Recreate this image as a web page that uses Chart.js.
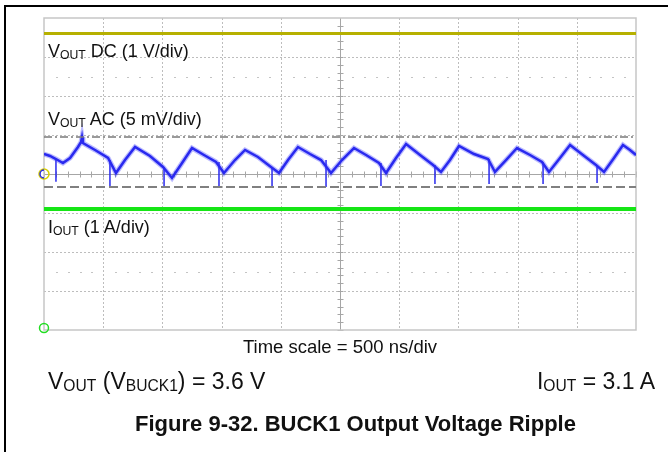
<!DOCTYPE html>
<html>
<head>
<meta charset="utf-8">
<script src="https://cdn.jsdelivr.net/npm/chart.js@4.4.1/dist/chart.umd.min.js"></script>
<style>
  body { margin: 0; background: #fff; }
  #wrap { position: relative; width: 668px; height: 452px; overflow: hidden; font-family: "Liberation Sans", Arial, sans-serif; color: #111; }
  #frame { position: absolute; left: 4px; top: 5px; width: 700px; height: 500px; border-left: 2px solid #000; border-top: 2px solid #000; }
  canvas { position: absolute; left: 0; top: 0; }
  .lbl { position: absolute; white-space: nowrap; line-height: 1; }
  .lbl sub { font-size: 0.68em; vertical-align: -2px; line-height: 0; }
  .big { font-size: 18px; }
  #time { left: 240px; width: 200px; top: 338px; text-align: center; font-size: 18.5px; }
  #vset { left: 48px; top: 370px; font-size: 23px; }
  #iset { right: 13px; top: 370px; font-size: 23px; }
  #title { left: 0; width: 711px; top: 413px; text-align: center; font-size: 22px; font-weight: bold; }
</style>
</head>
<body>
<div id="wrap">
  <div id="frame"></div>
  <canvas id="scope" width="668" height="452"></canvas>
  <div class="lbl big" style="left:48px; top:42px">V<sub>OUT</sub> DC (1 V/div)</div>
  <div class="lbl big" style="left:48px; top:110px">V<sub>OUT</sub> AC (5 mV/div)</div>
  <div class="lbl big" style="left:48px; top:218px">I<sub>OUT</sub> (1 A/div)</div>
  <div class="lbl" id="time">Time scale = 500 ns/div</div>
  <div class="lbl" id="vset">V<sub>OUT</sub> (V<sub>BUCK1</sub>) = 3.6 V</div>
  <div class="lbl" id="iset">I<sub>OUT</sub> = 3.1 A</div>
  <div class="lbl" id="title">Figure 9-32. BUCK1 Output Voltage Ripple</div>
</div>
<script>
// time axis: 10 div x 500 ns
const timeMin = 0, timeMax = 5000, nsPerDiv = 500;

// channel 2, VOUT AC ripple (mV)
const rippleNs = [0, 51, 101, 160, 220, 287, 313, 321, 329, 431,
  541, 608, 684, 769, 895, 1005, 1081, 1166, 1250, 1351,
  1453, 1520, 1613, 1698, 1807, 1917, 1985, 2061, 2145, 2247,
  2340, 2424, 2517, 2618, 2720, 2829, 2889, 2973, 3058, 3176,
  3286, 3353, 3429, 3505, 3632, 3750, 3809, 3902, 3995, 4105,
  4206, 4265, 4358, 4443, 4552, 4662, 4730, 4814, 4890, 4949, 5000];
const rippleMv = [2.56, 2.31, 1.92, 1.41, 2.05, 3.46, 4.10, 4.74, 3.97, 3.08,
  2.05, 0.13, 1.79, 3.46, 2.31, 0.90, -0.51, 1.41, 3.33, 2.44,
  1.54, 0.13, 1.79, 3.08, 2.18, 0.90, 0.13, 1.79, 3.46, 2.56,
  1.79, 0.13, 1.79, 3.33, 2.44, 1.41, 0.13, 2.05, 3.85, 2.44,
  1.15, 0.26, 1.79, 3.59, 2.56, 1.92, 0.26, 1.79, 3.33, 2.44,
  1.54, 0.26, 2.05, 3.72, 2.44, 1.15, 0.26, 2.05, 3.72, 3.08, 2.44];

// switching spikes on the ripple
const spikeNs = [101, 557, 1014, 1478, 1926, 2382, 2846, 3302, 3759, 4215, 4671];
const spikeTopMv = [1.92, 1.79, 0.90, 1.54, 0.90, 1.79, 1.41, 1.15, 1.92, 1.54, 1.15];
const spikeLowMv = [-1.0, -1.67, -1.67, -1.67, -1.67, -1.67, -1.54, -1.28, -1.28, -1.28, -1.15];

// cursors (mV)
const cursorMv = [4.74, -1.67];

// channel 1 VOUT DC (V) and channel 4 IOUT (A)
const vdcNs = [0, 5000];
const vdcV = [3.6, 3.6];
const ioutNs = [0, 5000];
const ioutA = [3.05, 3.05];

// volts/div and ground position (div from centre)
const ch1 = { perDiv: 1, ground: 0 };
const ch2 = { perDiv: 5, ground: 0 };
const ch4 = { perDiv: 1, ground: -3.95 };

const toDiv = (ch, v) => v / ch.perDiv + ch.ground;

const ripplePts = rippleNs.map((t, i) => ({ x: t, y: toDiv(ch2, rippleMv[i]) }));
const spikePts = [];
spikeNs.forEach((t, i) => {
  spikePts.push({ x: t, y: toDiv(ch2, spikeTopMv[i]) });
  spikePts.push({ x: t, y: toDiv(ch2, spikeLowMv[i]) });
  spikePts.push({ x: t, y: null });
});
const cursorLine = v => [{ x: timeMin, y: toDiv(ch2, v) }, { x: timeMax, y: toDiv(ch2, v) }];

const graticule = {
  id: 'graticule',
  beforeDatasetsDraw(chart) {
    const { ctx, chartArea: a, scales: { x, y } } = chart;
    const px = v => Math.round(x.getPixelForValue(v)) + 0.5;
    const py = v => Math.round(y.getPixelForValue(v)) + 0.5;
    const seg = (x1, y1, x2, y2) => { ctx.beginPath(); ctx.moveTo(x1, y1); ctx.lineTo(x2, y2); ctx.stroke(); };
    ctx.save();
    ctx.lineWidth = 1;
    ctx.strokeStyle = '#bdbdbd';
    ctx.setLineDash([2, 2]);
    for (let t = timeMin + nsPerDiv; t < timeMax; t += nsPerDiv) {
      if (t === 2500) continue;
      seg(px(t), a.top, px(t), a.bottom);
    }
    for (let d = -3; d <= 3; d++) {
      if (d === 0) continue;
      seg(a.left, py(d), a.right, py(d));
    }
    ctx.setLineDash([]);
    // dot rows
    ctx.fillStyle = '#c4c4c4';
    for (let t = timeMin; t < timeMax; t += nsPerDiv / 5) {
      if (t % nsPerDiv === 0) continue;
      ctx.fillRect(Math.round(x.getPixelForValue(t)), Math.round(y.getPixelForValue(2.5)), 2, 1);
      ctx.fillRect(Math.round(x.getPixelForValue(t)), Math.round(y.getPixelForValue(-2.5)), 2, 1);
    }
    // centre cross with minor ticks
    ctx.strokeStyle = '#a6a6a6';
    seg(px(2500), a.top, px(2500), a.bottom);
    seg(a.left, py(0), a.right, py(0));
    for (let t = timeMin; t <= timeMax; t += nsPerDiv / 5) seg(px(t), py(0) - 3, px(t), py(0) + 3);
    for (let d = -4; d <= 4; d += 0.2) seg(px(2500) - 3, py(d), px(2500) + 3, py(d));
    // border
    ctx.strokeStyle = '#c6c6c6';
    ctx.lineWidth = 1.5;
    ctx.strokeRect(a.left, a.top, a.right - a.left, a.bottom - a.top);
    ctx.restore();
  },
  afterDatasetsDraw(chart) {
    const { ctx, scales: { x, y } } = chart;
    ctx.save();
    ctx.lineWidth = 1.5;
    const gx = x.getPixelForValue(timeMin);
    // ch1/ch2 ground marker
    ctx.strokeStyle = '#d8d000';
    ctx.beginPath(); ctx.arc(gx, y.getPixelForValue(ch1.ground), 5, 0, Math.PI * 2); ctx.stroke();
    ctx.strokeStyle = '#2a2ae0';
    ctx.beginPath(); ctx.arc(gx, y.getPixelForValue(ch2.ground), 4, Math.PI * 0.5, Math.PI * 1.5); ctx.stroke();
    // ch4 ground marker
    ctx.strokeStyle = '#22dd22';
    ctx.beginPath(); ctx.arc(gx, y.getPixelForValue(ch4.ground), 4.5, 0, Math.PI * 2); ctx.stroke();
    ctx.restore();
  }
};

const hidden = { ticks: { display: false, padding: 0 }, grid: { display: false, drawTicks: false, tickLength: 0 }, border: { display: false } };

new Chart(document.getElementById('scope'), {
  type: 'line',
  data: {
    datasets: [
      { data: vdcNs.map((t, i) => ({ x: t, y: toDiv(ch1, vdcV[i]) })), borderColor: '#b6b000', borderWidth: 3 },
      { data: ioutNs.map((t, i) => ({ x: t, y: toDiv(ch4, ioutA[i]) })), borderColor: '#16e616', borderWidth: 4 },
      { data: cursorLine(cursorMv[0]), borderColor: '#7a7a7a', borderWidth: 1.5, borderDash: [8, 3, 2, 3] },
      { data: cursorLine(cursorMv[1]), borderColor: '#808080', borderWidth: 2, borderDash: [9, 4] },
      { data: ripplePts, borderColor: 'rgba(60,60,255,0.35)', borderWidth: 5 },
      { data: ripplePts, borderColor: '#2020e6', borderWidth: 2.5 },
      { data: spikePts, borderColor: '#2a2aee', borderWidth: 1.5, spanGaps: false }
    ]
  },
  options: {
    responsive: false,
    animation: false,
    devicePixelRatio: 1,
    layout: { padding: { left: 44, top: 18, right: 32, bottom: 122 } },
    elements: { point: { radius: 0 }, line: { tension: 0, fill: false } },
    plugins: { legend: { display: false }, tooltip: { enabled: false } },
    scales: {
      x: { type: 'linear', min: timeMin, max: timeMax, ...hidden },
      y: { type: 'linear', min: -4, max: 4, ...hidden }
    }
  },
  plugins: [graticule]
});
</script>
</body>
</html>
